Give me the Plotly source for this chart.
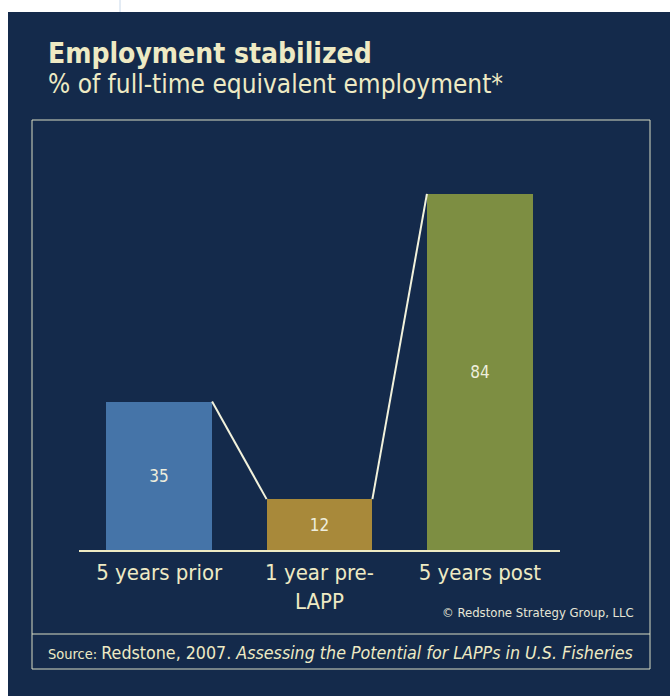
import plotly.graph_objects as go

categories = ["5 years prior", "1 year pre-<br>LAPP", "5 years post"]
values = [35, 12, 84]
bar_colors = ["#4574a8", "#a8893a", "#7d8e42"]

title_text = "Employment stabilized"
subtitle_text = "% of full-time equivalent employment*"
copyright_text = "© Redstone Strategy Group, LLC"
source_label = "Source: "
source_plain = "Redstone, 2007. "
source_italic = "Assessing the Potential for LAPPs in U.S. Fisheries"

W, H = 670, 696
NAVY = "#142a4b"
CREAM = "#eeeac4"
FONT = "DejaVu Sans Condensed, DejaVu Sans, sans-serif"
BAR_W = 0.66


def px(x):
    return x / W


def py(y):
    return 1 - y / H


fig = go.Figure()

fig.add_trace(go.Bar(
    x=list(range(len(categories))),
    y=values,
    width=BAR_W,
    marker=dict(color=bar_colors, line=dict(width=0)),
    text=[str(v) for v in values],
    textposition="inside",
    insidetextanchor="middle",
    textangle=0,
    textfont=dict(family=FONT, size=17, color="#eeeedd"),
    hoverinfo="skip",
))

# connector lines between bar tops
cx, cy = [], []
for i in range(len(values) - 1):
    cx += [i + BAR_W / 2, i + 1 - BAR_W / 2, None]
    cy += [values[i], values[i + 1], None]
fig.add_trace(go.Scatter(
    x=cx, y=cy, mode="lines",
    line=dict(color="#f2f2dc", width=2),
    hoverinfo="skip",
))

shapes = [
    # navy panel
    dict(type="rect", xref="paper", yref="paper", x0=px(8), x1=1.01, y0=-0.01, y1=py(12),
         fillcolor=NAVY, line=dict(width=0), layer="below"),
    # thin vertical line in the white margin
    dict(type="line", xref="paper", yref="paper", x0=px(120), x1=px(120), y0=py(0), y1=py(12),
         line=dict(color="#c8d8ea", width=1)),
    # inner frame
    dict(type="rect", xref="paper", yref="paper", x0=px(32), x1=px(650), y0=py(669), y1=py(120),
         line=dict(color="#d8dcc4", width=1), layer="below"),
    dict(type="line", xref="paper", yref="paper", x0=px(32), x1=px(650), y0=py(634), y1=py(634),
         line=dict(color="#d8dcc4", width=1)),
]

annotations = [
    dict(text="<b>" + title_text + "</b>", x=px(46), y=py(53), xref="paper", yref="paper",
         xanchor="left", yanchor="middle", showarrow=False,
         font=dict(family=FONT, size=28, color=CREAM)),
    dict(text=subtitle_text, x=px(46), y=py(84), xref="paper", yref="paper",
         xanchor="left", yanchor="middle", showarrow=False,
         font=dict(family=FONT, size=26, color=CREAM)),
    dict(text=copyright_text, x=px(636), y=py(612), xref="paper", yref="paper",
         xanchor="right", yanchor="middle", showarrow=False,
         font=dict(family=FONT, size=13, color="#e6e6d6")),
    dict(text="<span style='font-size:14.5px'>" + source_label + "</span>" + source_plain
         + "<i>" + source_italic + "</i>",
         x=px(46), y=py(653), xref="paper", yref="paper",
         xanchor="left", yanchor="middle", showarrow=False,
         font=dict(family=FONT, size=17.7, color=CREAM)),
]

fig.update_layout(
    width=W, height=H,
    margin=dict(l=0, r=0, t=0, b=0),
    paper_bgcolor="white",
    plot_bgcolor="rgba(0,0,0,0)",
    showlegend=False,
    bargap=0,
    shapes=shapes,
    annotations=annotations,
    xaxis=dict(
        domain=[px(79), px(560)],
        range=[-0.5, 2.5],
        tickmode="array",
        tickvals=list(range(len(categories))),
        ticktext=categories,
        showline=True, linecolor=CREAM, linewidth=2,
        showgrid=False, zeroline=False, ticks="",
        ticklabelstandoff=2,
        tickfont=dict(family=FONT, size=22, color=CREAM),
        fixedrange=True,
    ),
    yaxis=dict(
        domain=[py(550), py(126)],
        range=[0, 100],
        visible=False,
        showgrid=False, zeroline=False,
        fixedrange=True,
    ),
)

fig.write_html(
    "out.html",
    config={"displayModeBar": False},
    post_script="document.body.style.margin='0';document.body.style.overflow='hidden';",
)
